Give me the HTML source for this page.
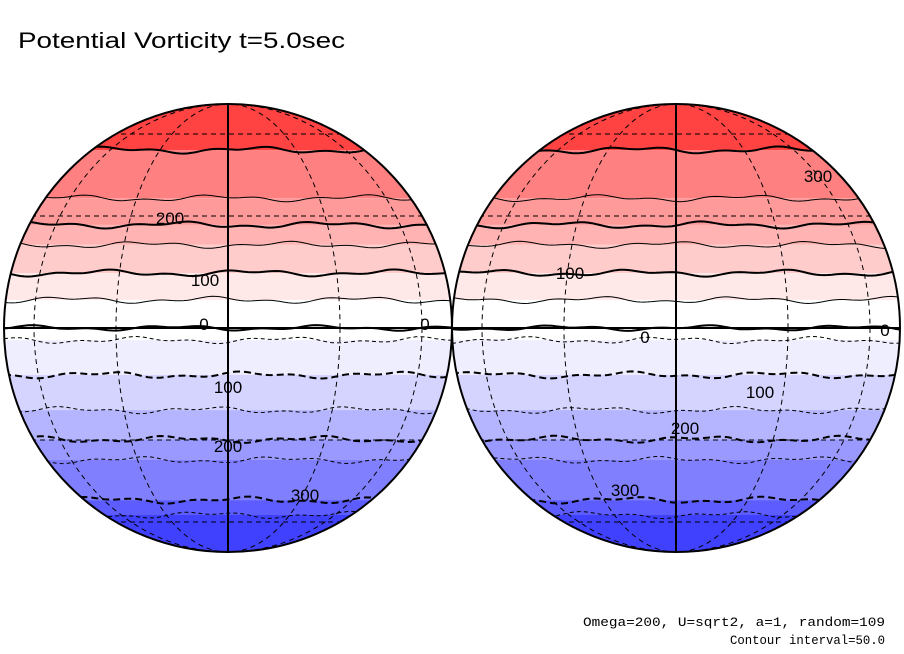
<!DOCTYPE html>
<html><head><meta charset="utf-8">
<style>
body{margin:0;background:#fff;}
svg{display:block;}
</style></head>
<body>
<svg id="chart" width="904" height="654" viewBox="0 0 904 654">
<text x="18" y="48" font-size="22" textLength="327" lengthAdjust="spacingAndGlyphs" style="font-family:'Liberation Sans',sans-serif">Potential Vorticity t=5.0sec</text>
<text x="885" y="626" font-size="13" text-anchor="end" textLength="302" lengthAdjust="spacingAndGlyphs" style="font-family:'Liberation Mono',monospace">Omega=200, U=sqrt2, a=1, random=109</text>
<text x="885" y="644" font-size="13" text-anchor="end" textLength="155" lengthAdjust="spacingAndGlyphs" style="font-family:'Liberation Mono',monospace">Contour interval=50.0</text>
<g id="globes"></g>
</svg>
<script>
// Contour levels (top to bottom) and the latitude (deg) where each band boundary lies
const levels = [300, 250, 200, 150, 100, 50, 0, -50, -100, -150, -200, -250, -300, -350];
const boundaryLats = [52.6, 35.4, 27.4, 21.8, 14.2, 7.2, 0, -3.1, -12.1, -21.5, -29.8, -36.1, -50.2, -56.6];
const bandColors = ["#ff4242","#ff8080","#ff9a9a","#ffb3b3","#ffcccc","#ffe8e8","#ffffff","#ffffff","#eeeeff","#d4d4ff","#b4b4ff","#9999ff","#8080ff","#5c5cff","#4040ff"];
const globeCenters = [228, 676];
const leftLabels = [["200",170,224],["100",205,286],["0",204,330],["0",425,330],["100",228,393],["200",228,452],["300",305,501]];
const rightLabels = [["300",818,182],["100",570,279],["0",645,343],["0",885,336],["100",760,398],["200",685,434],["300",625,496]];
const labelSets = [leftLabels, rightLabels];

const NS = "http://www.w3.org/2000/svg";
const cy = 328, R = 224;
const yOf = lat => cy - R * Math.sin(lat * Math.PI / 180);
const root = document.getElementById('globes');
function mk(tag, attrs, parent){
  const e = document.createElementNS(NS, tag);
  for (const k in attrs) e.setAttribute(k, attrs[k]);
  parent.appendChild(e); return e;
}
globeCenters.forEach((cx, gi) => {
  const g = mk('g', {}, root);
  
  
  const defs = mk('defs', {}, g);
  const cp = mk('clipPath', {id: 'clip' + gi}, defs);
  mk('circle', {cx: cx, cy: cy, r: R}, cp);
  const inner = mk('g', {'clip-path': 'url(#clip' + gi + ')'}, g);
  for (let i = 0; i < bandColors.length; i++) {
    const top = i === 0 ? cy - R : yOf(boundaryLats[i - 1]);
    const bot = i === boundaryLats.length ? cy + R : yOf(boundaryLats[i]);
    const r = mk('rect', {x: cx - R, y: top, width: 2 * R, height: bot - top, fill: bandColors[i]}, inner);
    
    
  }
  levels.forEach((lv, i) => {
    const y = yOf(boundaryLats[i]);
    let d = '';
    for (let x = cx - R; x <= cx + R; x += 4) {
      const w = 2.2 * Math.sin((x + i * 37 + gi * 50) / 23) + 1.4 * Math.sin((x + i * 11) / 9);
      d += (d ? 'L' : 'M') + x + ',' + (y + (lv === 0 ? w * 0.8 : w)).toFixed(1);
    }
    const thick = lv % 100 === 0;
    const p = mk('path', {d: d, fill: 'none', stroke: '#000', 'stroke-width': thick ? 2 : 1, 'stroke-dasharray': lv < 0 ? (thick ? '7,4' : '4,3') : 'none'}, inner);
    
    
  });
  [30, 60].forEach(lon => {
    const rx = R * Math.sin(lon * Math.PI / 180);
    const e = mk('ellipse', {cx: cx, cy: cy, rx: rx, ry: R, fill: 'none', stroke: '#000', 'stroke-width': 1, 'stroke-dasharray': '5,4'}, inner);
    
    
  });
  [60, 30, -30, -60].forEach(lat => {
    const l = mk('line', {x1: cx - R, x2: cx + R, y1: yOf(lat), y2: yOf(lat), stroke: '#000', 'stroke-width': 1, 'stroke-dasharray': '5,4'}, inner);
    
    
  });
  const eq = mk('line', {x1: cx - R, x2: cx + R, y1: cy, y2: cy, stroke: '#000', 'stroke-width': 2}, inner);
  
  
  const cm = mk('line', {x1: cx, x2: cx, y1: cy - R, y2: cy + R, stroke: '#000', 'stroke-width': 2}, inner);
  
  
  const outline = mk('circle', {cx: cx, cy: cy, r: R, fill: 'none', stroke: '#000', 'stroke-width': 2}, g);
  
  
  labelSets[gi].forEach(([t, x, y]) => {
    const tx = mk('text', {x: x, y: y, 'font-size': 17, 'text-anchor': 'middle', style: "font-family:'Liberation Sans',sans-serif"}, g);
    tx.textContent = t;
    
    
  });
});
</script>
</body></html>
